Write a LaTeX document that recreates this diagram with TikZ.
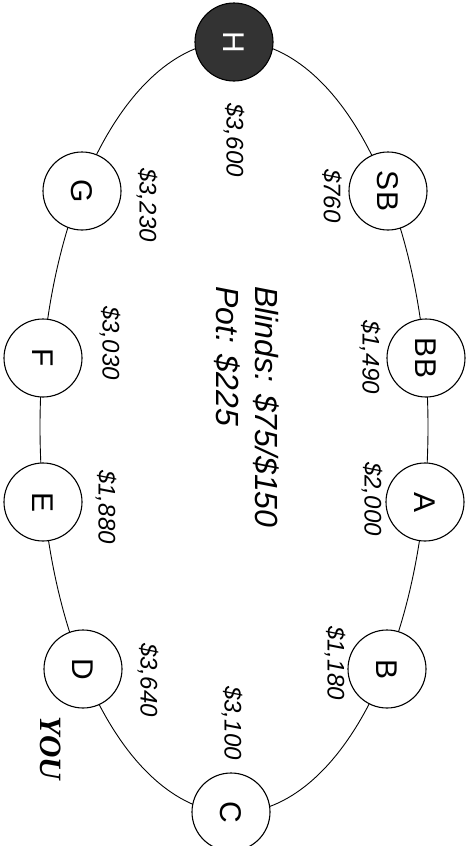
\documentclass[tikz,border=0pt]{standalone}
\usepackage{fontspec}
\setmainfont{Liberation Sans}
\newfontfamily\youfont{Liberation Serif}
\tikzset{
  tableline/.style={draw=black, line width=0.9pt},
  seat/.style={
    circle,
    draw=black,
    fill=white,
    line width=1.1pt,
    minimum size=78pt,
    inner sep=0pt,
    font=\fontsize{30}{30}\selectfont,
    rotate=-90
  },
  darkseat/.style={seat, fill=black!80, text=white},
  chips/.style={font=\fontsize{24}{24}\selectfont\itshape, rotate=-90, inner sep=0pt},
  infolabel/.style={font=\fontsize{32}{39}\selectfont\itshape, rotate=-90, align=left, inner sep=0pt}
}

\begin{document}
\begin{tikzpicture}[x=1pt, y=-1pt]
  \useasboundingbox (0,0) rectangle (466,846);

  % table outline, the seats sit on it
  \coordinate (T) at (234,427);
  \draw[tableline] (T) ellipse [x radius=194, y radius=386];

  \node[darkseat] (H) at (234,42) {H};
  \foreach \name/\x/\y in {SB/388/191, BB/426/358, A/425/502, B/387/669,
                           C/231/812, D/83/669, E/43/502, F/43/358, G/82/191} {
    \node[seat] (\name) at (\x,\y) {\name};
  }

  % stacks
  \foreach \name/\x/\y/\amt in {H/234/140/{\$3,600}, SB/332/196/{\$760},
                                BB/370/357/{\$1,490}, A/372/499/{\$2,000},
                                B/335/663/{\$1,180}, C/232/723/{\$3,100},
                                D/148/680/{\$3,640}, E/106/507/{\$1,880},
                                F/110/343/{\$3,030}, G/147/205/{\$3,230}} {
    \node[chips] (amt\name) at (\x,\y) {\amt};
  }

  \node[font=\fontsize{31}{31}\selectfont\youfont\bfseries\itshape, rotate=-90, inner sep=0pt] (you) at (51,748) {YOU};

  \node[infolabel, anchor=west] (info) at (247,286) {Blinds: \$75/\$150\\Pot: \$225};
\end{tikzpicture}
\end{document}
